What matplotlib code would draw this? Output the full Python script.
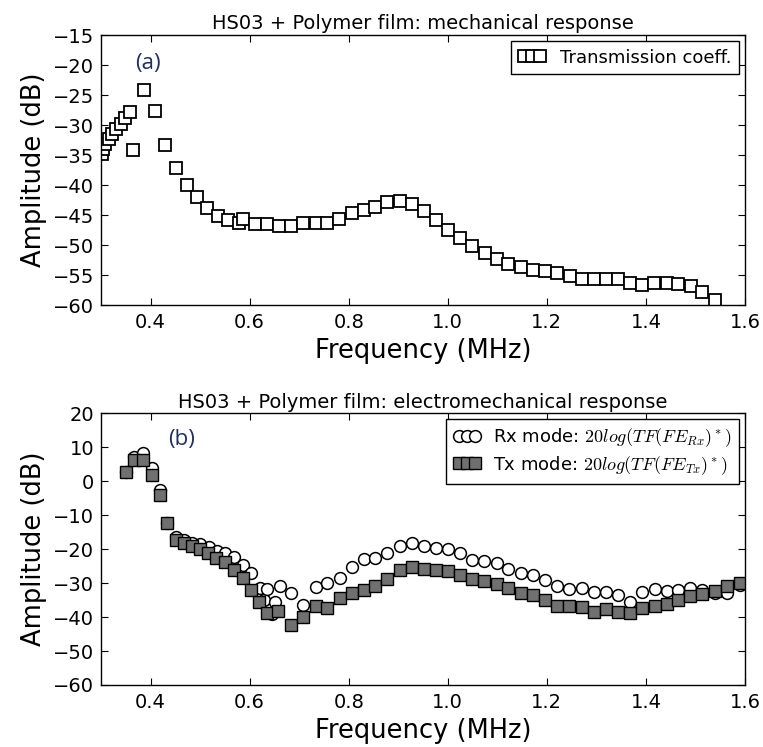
import matplotlib
matplotlib.use("Agg")
import matplotlib.pyplot as plt

# panel (a): mechanical response
freq_a = [0.301, 0.304, 0.309, 0.316, 0.323, 0.331, 0.340, 0.348, 0.358, 0.364,
          0.386, 0.409, 0.429, 0.452, 0.473, 0.493, 0.514, 0.536, 0.557, 0.579,
          0.586, 0.610, 0.635, 0.660, 0.684, 0.708, 0.733, 0.756, 0.780, 0.806,
          0.830, 0.854, 0.878, 0.903, 0.928, 0.951, 0.976, 1.000, 1.025, 1.049,
          1.075, 1.099, 1.122, 1.147, 1.172, 1.196, 1.221, 1.247, 1.270, 1.295,
          1.319, 1.344, 1.368, 1.393, 1.416, 1.442, 1.465, 1.490, 1.514, 1.539]
amp_a = [-34.8, -34.0, -33.2, -32.3, -31.5, -30.7, -29.8, -28.9, -27.8, -34.1,
         -24.2, -27.6, -33.3, -37.2, -40.0, -42.0, -43.8, -45.1, -45.8, -46.4,
         -45.6, -46.5, -46.5, -46.8, -46.8, -46.3, -46.3, -46.3, -45.6, -44.7,
         -44.2, -43.7, -42.9, -42.6, -43.2, -44.4, -45.9, -47.5, -48.9, -50.2,
         -51.3, -52.4, -53.2, -53.6, -54.1, -54.3, -54.6, -55.2, -55.6, -55.6,
         -55.6, -55.7, -56.4, -56.7, -56.4, -56.4, -56.5, -56.8, -57.9, -59.1]

# panel (b): electromechanical response
freq_rx = [0.350, 0.366, 0.384, 0.403, 0.419, 0.434, 0.452, 0.467, 0.484, 0.500,
           0.517, 0.534, 0.551, 0.569, 0.587, 0.603, 0.620, 0.628, 0.636, 0.645,
           0.652, 0.661, 0.684, 0.708, 0.733, 0.757, 0.782, 0.807, 0.830, 0.854,
           0.878, 0.903, 0.928, 0.952, 0.977, 1.001, 1.025, 1.049, 1.073, 1.099,
           1.122, 1.147, 1.172, 1.196, 1.221, 1.245, 1.270, 1.295, 1.319, 1.344,
           1.368, 1.393, 1.418, 1.442, 1.465, 1.489, 1.514, 1.539, 1.563, 1.589]
amp_rx = [2.8, 7.0, 8.2, 3.8, -2.6, -12.4, -16.5, -17.2, -18.1, -18.6,
          -19.3, -20.5, -21.3, -22.2, -24.6, -27.1, -31.5, -35.0, -31.8, -39.0,
          -35.5, -30.8, -32.9, -36.4, -31.2, -30.0, -28.5, -25.3, -23.0, -22.6,
          -21.3, -19.0, -18.2, -19.2, -19.7, -20.0, -21.2, -23.1, -23.6, -24.1,
          -25.9, -27.1, -27.6, -29.0, -31.0, -31.8, -31.5, -32.5, -32.7, -33.4,
          -35.7, -32.5, -31.8, -32.2, -32.0, -31.5, -32.0, -32.8, -33.0, -30.5]

freq_tx = [0.350, 0.366, 0.384, 0.403, 0.419, 0.434, 0.452, 0.467, 0.483, 0.499,
           0.516, 0.533, 0.551, 0.568, 0.586, 0.602, 0.618, 0.635, 0.658, 0.684,
           0.708, 0.733, 0.757, 0.782, 0.807, 0.830, 0.854, 0.878, 0.903, 0.928,
           0.952, 0.977, 1.001, 1.025, 1.049, 1.073, 1.099, 1.122, 1.147, 1.172,
           1.196, 1.221, 1.245, 1.270, 1.295, 1.319, 1.344, 1.368, 1.393, 1.418,
           1.442, 1.465, 1.489, 1.514, 1.539, 1.563, 1.589]
amp_tx = [2.8, 6.3, 6.3, 1.9, -4.0, -12.4, -17.3, -18.2, -19.0, -20.0,
          -21.2, -22.6, -23.9, -26.1, -28.6, -32.1, -35.7, -38.8, -38.2, -42.3,
          -40.0, -36.7, -37.4, -34.4, -32.9, -32.0, -31.0, -28.8, -26.3, -25.3,
          -25.9, -26.1, -26.4, -27.6, -28.8, -29.5, -30.2, -31.5, -32.8, -33.4,
          -34.9, -36.7, -36.9, -37.1, -38.4, -37.7, -38.4, -38.8, -37.2, -36.7,
          -36.1, -35.1, -33.9, -33.2, -32.2, -31.0, -30.0]

xticks = [0.4, 0.6, 0.8, 1.0, 1.2, 1.4, 1.6]
yticks_a = list(range(-60, -14, 5))
yticks_b = list(range(-60, 21, 10))

plt.rcParams['font.family'] = ['DejaVu Sans']
plt.rcParams['mathtext.fontset'] = 'cm'
plt.rcParams['xtick.direction'] = 'in'
plt.rcParams['ytick.direction'] = 'in'
plt.rcParams['xtick.top'] = True
plt.rcParams['ytick.right'] = True
plt.rcParams['xtick.major.size'] = 5
plt.rcParams['ytick.major.size'] = 5
plt.rcParams['xtick.major.pad'] = 6
plt.rcParams['ytick.major.pad'] = 5

fig = plt.figure(figsize=(7.63, 7.47), dpi=100)
ax1 = fig.add_axes([0.1324, 0.5917, 0.844, 0.3614])
ax2 = fig.add_axes([0.1324, 0.083, 0.844, 0.364])

ax1.plot(freq_a, amp_a, ls='none', marker='s', ms=8, mfc='white', mec='black',
         mew=1.3, label='Transmission coeff.')
ax1.set_xlim(0.3, 1.6)
ax1.set_ylim(-60, -15)
ax1.set_xticks(xticks)
ax1.set_yticks(yticks_a)
ax1.set_title('HS03 + Polymer film: mechanical response', fontsize=14, pad=4)
ax1.set_xlabel('Frequency (MHz)', fontsize=18.5)
ax1.set_ylabel('Amplitude (dB)', fontsize=18.5)
ax1.text(0.394, -19.8, '(a)', fontsize=16, color='#1f2f5f', family='Open Sans',
         ha='center', va='center')
ax1.legend(loc='upper right', numpoints=3, fontsize=13, fancybox=False,
           framealpha=1, edgecolor='black', handlelength=1.5, handletextpad=0.8,
           borderaxespad=0.35)

ax2.plot(freq_rx, amp_rx, ls='none', marker='o', ms=8.5, mfc='white', mec='black',
         mew=1.1, label=r'Rx mode: $20log(TF(FE_{Rx})^*)$')
ax2.plot(freq_tx, amp_tx, ls='none', marker='s', ms=8.5, mfc='#707070', mec='black',
         mew=1.0, label=r'Tx mode: $20log(TF(FE_{Tx})^*)$')
ax2.set_xlim(0.3, 1.6)
ax2.set_ylim(-60, 20)
ax2.set_xticks(xticks)
ax2.set_yticks(yticks_b)
ax2.set_title('HS03 + Polymer film: electromechanical response', fontsize=14, pad=4)
ax2.set_xlabel('Frequency (MHz)', fontsize=18.5)
ax2.set_ylabel('Amplitude (dB)', fontsize=18.5)
ax2.text(0.4625, 12.1, '(b)', fontsize=16, color='#1f2f5f', family='Open Sans',
         ha='center', va='center')
ax2.legend(loc='upper right', numpoints=3, fontsize=13, fancybox=False,
           framealpha=1, edgecolor='black', handlelength=1.5, handletextpad=0.7,
           borderaxespad=0.35, labelspacing=0.25)

for ax in (ax1, ax2):
    ax.tick_params(labelsize=14)
    for s in ax.spines.values():
        s.set_linewidth(1.0)

fig.savefig('out.png', dpi=100, facecolor='white')
